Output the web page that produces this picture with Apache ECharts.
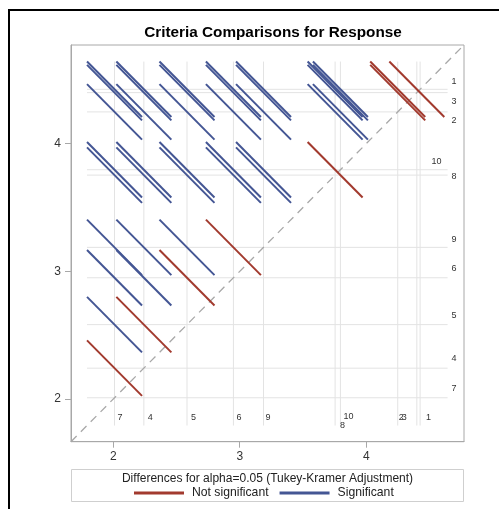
<!DOCTYPE html>
<html><head><meta charset="utf-8">
<script src="https://cdn.jsdelivr.net/npm/echarts@6/dist/echarts.min.js"></script>
<style>html,body{margin:0;padding:0;background:#fff}#c{width:499px;height:509px}</style>
</head><body><div id="c"></div>
<script>
// ---- data ----
const levels = ['7', '4', '5', '6', '9', '8', '10', '2', '3', '1'];          // sorted by mean
const means  = [2.010, 2.242, 2.583, 2.950, 3.188, 3.754, 3.796, 4.249, 4.400, 4.426];
const ciHalfWidth = 0.2174;   // half of each Tukey-Kramer interval, per coordinate
const notSignificantPairs = [['7','4'], ['4','5'], ['5','6'], ['6','9'], ['8','10'], ['2','3'], ['2','1'], ['3','1']];
const tickValues = [2, 3, 4];
const axisRange = [1.666, 4.773];
const titleText = 'Criteria Comparisons for Response';
const legendTitle = 'Differences for alpha=0.05 (Tukey-Kramer Adjustment)';
const seriesNames = ['Not significant', 'Significant'];

// ---- styling (label nudges in pixels) ----
const xLabelNudge = {'7':[3,-8],'4':[4,-8],'5':[4,-8],'6':[3,-8],'9':[2,-8],'8':[5,0],'10':[3,-9],'2':[1,-8],'3':[-15,-8],'1':[6,-8]};
const yLabelNudge = {'1':[4,-7.5],'3':[4,9],'2':[4,9],'10':[-16,-8],'8':[4,1],'9':[4,-8],'6':[4,-9],'5':[4,-9.5],'4':[4,-10],'7':[4,-9]};
const RED = '#A23A2E', BLUE = '#445694';
const FONT = '"Liberation Sans", Arial, sans-serif';

// ---- build pair data ----
const nsKey = new Set(notSignificantPairs.map(p => p.slice().sort().join('|')));
const nsData = [], sData = [];
for (let i = 0; i < levels.length; i++) {
  for (let j = i + 1; j < levels.length; j++) {
    const pt = [means[i], means[j]];
    if (nsKey.has([levels[i], levels[j]].sort().join('|'))) nsData.push(pt); else sData.push(pt);
  }
}
const lo = Math.min(...means) - ciHalfWidth;
const hi = Math.max(...means) + ciHalfWidth;
const W = ciHalfWidth;

function segRender(color) {
  return function (params, api) {
    const x = api.value(0), y = api.value(1);
    const p1 = api.coord([x - W, y + W]);
    const p2 = api.coord([x + W, y - W]);
    return { type: 'line', shape: { x1: p1[0], y1: p1[1], x2: p2[0], y2: p2[1] },
             style: { stroke: color, lineWidth: 2, fill: null } };
  };
}

const chart = echarts.init(document.getElementById('c'), null, { renderer: 'canvas' });
chart.setOption({
  animation: false,
  backgroundColor: '#fff',
  textStyle: { fontFamily: FONT },
  title: { text: titleText, left: 268, textAlign: 'center', top: 20,
           textStyle: { fontSize: 15.3, fontWeight: 'bold', color: '#000', fontFamily: FONT } },
  grid: { left: 71, top: 45, width: 393, height: 396.7, show: true, borderColor: '#a8a8a8', borderWidth: 1, containLabel: false },
  xAxis: { type: 'value', min: axisRange[0], max: axisRange[1],
    axisLine: { show: true, onZero: false, lineStyle: { color: '#a8a8a8' } },
    axisTick: { show: true, customValues: tickValues, length: 6, lineStyle: { color: '#a8a8a8' } },
    axisLabel: { customValues: tickValues, fontSize: 12, color: '#333', margin: 9, fontFamily: FONT },
    splitLine: { show: false } },
  yAxis: { type: 'value', min: axisRange[0], max: axisRange[1],
    axisLine: { show: true, onZero: false, lineStyle: { color: '#a8a8a8' } },
    axisTick: { show: true, customValues: tickValues, length: 6, lineStyle: { color: '#a8a8a8' } },
    axisLabel: { customValues: tickValues, fontSize: 12, color: '#333', margin: 10, fontFamily: FONT },
    splitLine: { show: false } },
  legend: { data: seriesNames, top: 487, left: 134, padding: 0, itemWidth: 50, itemHeight: 3, icon: 'rect',
            itemGap: 11, textStyle: { fontSize: 12.2, color: '#222', fontFamily: FONT, padding: [0, 0, 0, 3] } },
  graphic: [
    { type: 'rect', shape: { x: 9, y: 10, width: 600, height: 600 }, style: { fill: null, stroke: '#000', lineWidth: 2 }, silent: true },
    { type: 'rect', shape: { x: 71.5, y: 469.5, width: 392, height: 32 }, style: { fill: null, stroke: '#cfcfcf', lineWidth: 1 }, silent: true },
    { type: 'text', x: 267.5, y: 478.5, style: { text: legendTitle, align: 'center', verticalAlign: 'middle', fontSize: 12, fill: '#222', fontFamily: FONT }, silent: true }
  ],
  series: [
    { type: 'custom', name: 'refs', silent: true, z: 1, data: means.map(m => [m, m]),
      renderItem: function (params, api) {
        const m = api.value(0);
        const v1 = api.coord([m, lo]), v2 = api.coord([m, hi]);
        const h1 = api.coord([lo, m]), h2 = api.coord([hi, m]);
        return { type: 'group', children: [
          { type: 'line', shape: { x1: v1[0], y1: v1[1], x2: v2[0], y2: v2[1] }, style: { stroke: '#e3e3e3', lineWidth: 1 } },
          { type: 'line', shape: { x1: h1[0], y1: h1[1], x2: h2[0], y2: h2[1] }, style: { stroke: '#e3e3e3', lineWidth: 1 } }
        ] };
      } },
    { type: 'line', name: 'diag', silent: true, z: 2, symbol: 'none', data: [[axisRange[0], axisRange[0]], [axisRange[1], axisRange[1]]],
      lineStyle: { color: '#a8a8a8', width: 1.3, type: [8, 6] } },
    { type: 'custom', name: 'labels', silent: true, z: 3, data: levels.map((l, i) => [means[i], i]),
      renderItem: function (params, api) {
        const m = api.value(0), idx = params.dataIndex, name = levels[idx];
        const px = api.coord([m, lo]), py = api.coord([hi, m]);
        const nx = xLabelNudge[name], ny = yLabelNudge[name];
        const st = { fontSize: 9, fill: '#333', fontFamily: FONT, align: 'left', verticalAlign: 'middle' };
        return { type: 'group', children: [
          { type: 'text', x: px[0] + nx[0], y: px[1] + nx[1], style: Object.assign({ text: name }, st) },
          { type: 'text', x: py[0] + ny[0], y: py[1] + ny[1], style: Object.assign({ text: name }, st) }
        ] };
      } },
    { type: 'custom', name: seriesNames[0], z: 4, itemStyle: { color: RED }, data: nsData, renderItem: segRender(RED) },
    { type: 'custom', name: seriesNames[1], z: 4, itemStyle: { color: BLUE }, data: sData, renderItem: segRender(BLUE) }
  ]
});
</script>
</body></html>
